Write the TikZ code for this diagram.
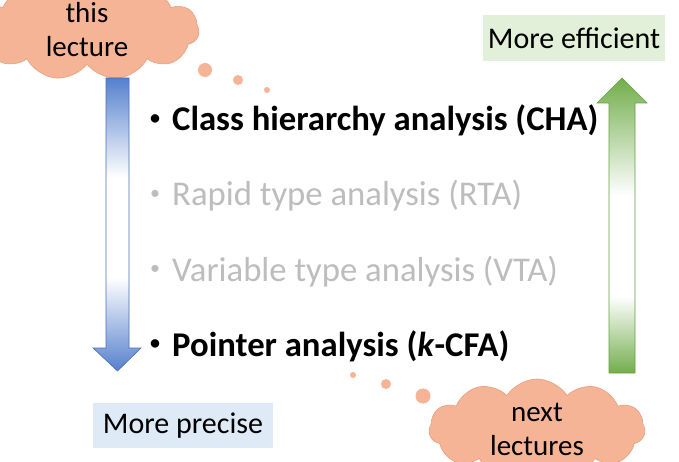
\documentclass[tikz,border=0pt]{standalone}
\usepackage{fontspec}
\setmainfont{Carlito}
\usetikzlibrary{shapes.symbols}

\definecolor{cloudfill}{HTML}{F5B496}
\definecolor{cloudline}{HTML}{E8A07E}
\definecolor{bluearrow}{HTML}{5580CD}
\definecolor{blueedge}{HTML}{4A6FB5}
\definecolor{greenarrow}{HTML}{72AE4C}
\definecolor{greenedge}{HTML}{65A041}
\definecolor{bluebox}{HTML}{DEEAF6}
\definecolor{greenbox}{HTML}{E2EFD9}
\definecolor{fadedtext}{HTML}{BDBDBD}

% vertical fades: solid at both ends, white in the middle
\pgfdeclareverticalshading{bluefade}{100bp}{color(0bp)=(bluearrow); color(25bp)=(bluearrow);
  color(41bp)=(white); color(58bp)=(white); color(75bp)=(bluearrow); color(100bp)=(bluearrow)}
\pgfdeclareverticalshading{greenfade}{100bp}{color(0bp)=(greenarrow); color(25bp)=(greenarrow);
  color(38bp)=(white); color(55bp)=(white); color(75bp)=(greenarrow); color(100bp)=(greenarrow)}

% small list bullet in a fixed-width slot
\newcommand{\itembullet}{\makebox[22pt][l]{\raisebox{0.2em}{\fontsize{20}{20}\selectfont\textbullet}}}

\begin{document}
\begin{tikzpicture}[x=1pt,y=-1pt,
  thought/.style={cloud, cloud puffs=11, cloud puff arc=115, aspect=2.2,
    fill=cloudfill, draw=cloudline, line width=0.6pt, inner sep=0pt,
    align=center, font=\fontsize{29}{34}\selectfont},
  bubble/.style={circle, fill=cloudfill, inner sep=0pt},
  tagbox/.style={inner sep=0pt, font=\fontsize{30}{34}\selectfont},
  item/.style={anchor=base west, inner sep=0pt, font=\fontsize{34.7}{40}\selectfont},
  keyitem/.style={item, font=\fontsize{34.7}{40}\selectfont\bfseries},
  fadeditem/.style={item, text=fadedtext}]
\clip (0,0) rectangle (679,462);
\fill[white] (0,0) rectangle (679,462);

% clouds with their trails of bubbles
\node[thought, minimum width=224pt, minimum height=100pt] (now) at (87,30) {this\\lecture};
\node[bubble, minimum size=14pt] (b1) at (205,70) {};
\node[bubble, minimum size=10pt] (b2) at (238,80) {};
\node[bubble, minimum size=6pt]  (b3) at (267,90) {};

\node[thought, minimum width=216pt, minimum height=100pt] (later) at (537,429) {next\\lectures};
\node[bubble, minimum size=6pt]  (c3) at (353,375) {};
\node[bubble, minimum size=10pt] (c2) at (386,384) {};
\node[bubble, minimum size=15pt] (c1) at (423,396) {};

% downward arrow: towards precision
\path[shading=bluefade, draw=blueedge, line width=0.6pt]
  (106,78) -- (129,78) -- (129,348) -- (141,348) -- (117.5,371) -- (93,348) -- (106,348) -- cycle;
% upward arrow: towards efficiency
\path[shading=greenfade, draw=greenedge, line width=0.6pt]
  (609,373) -- (635,373) -- (635,103) -- (647,103) -- (622,78) -- (597,103) -- (609,103) -- cycle;

% labels at the arrow ends
\node[tagbox, fill=bluebox, minimum width=180pt, minimum height=45pt] (precise) at (183,425.5) {More precise};
\node[tagbox, fill=greenbox, minimum width=182pt, minimum height=46pt] (efficient) at (574,38) {More efficient};

% the analyses
\node[keyitem] (cha) at (150,131) {\itembullet Class hierarchy analysis (CHA)};
\node[fadeditem] (rta) at (150,206) {\itembullet Rapid type analysis (RTA)};
\node[fadeditem] (vta) at (150,281) {\itembullet Variable type analysis (VTA)};
\node[keyitem] (pta) at (150,356) {\itembullet Pointer analysis (\textit{k}-CFA)};
\end{tikzpicture}
\end{document}
